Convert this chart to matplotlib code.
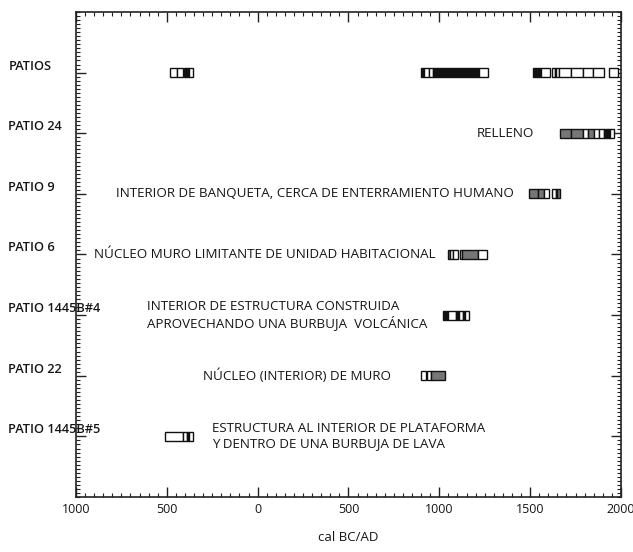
import numpy as np
import matplotlib
matplotlib.use("Agg")
import matplotlib.pyplot as plt
from matplotlib.ticker import MultipleLocator, FuncFormatter

plt.rcParams['font.family'] = ['Open Sans', 'DejaVu Sans']

# muestras (de arriba hacia abajo)
muestras = ["PATIOS", "PATIO 24", "PATIO 9", "PATIO 6",
            "PATIO 1445B#4", "PATIO 22", "PATIO 1445B#5"]
posiciones = [7, 6, 5, 4, 3, 2, 1]

# segmentos de cada rango calibrado: (inicio, fin, tono) ; BC negativo
seg_patios = [(-485, -443, 'w'), (-443, -410, 'w'), (-405, -380, 'k'), (-380, -358, 'w'),
              (898, 914, 'k'), (914, 945, 'w'), (945, 965, 'w'), (965, 1217, 'k'), (1217, 1266, 'w'),
              (1514, 1558, 'k'), (1558, 1608, 'w'), (1618, 1635, 'w'), (1635, 1645, 'k'),
              (1645, 1657, 'w'), (1657, 1724, 'w'), (1724, 1790, 'w'), (1793, 1845, 'w'),
              (1845, 1905, 'w'), (1933, 1982, 'w')]
seg_patio24 = [(1663, 1724, 'g'), (1724, 1790, 'g'), (1790, 1820, 'w'), (1820, 1850, 'g'),
               (1850, 1880, 'w'), (1880, 1905, 'w'), (1905, 1940, 'k'), (1940, 1960, 'w')]
seg_patio9 = [(1494, 1542, 'g'), (1542, 1575, 'g'), (1575, 1602, 'w'),
              (1622, 1640, 'w'), (1640, 1650, 'k'), (1650, 1663, 'g')]
seg_patio6 = [(1046, 1060, 'g'), (1060, 1074, 'w'), (1074, 1101, 'w'),
              (1112, 1123, 'w'), (1123, 1211, 'g'), (1211, 1261, 'w')]
seg_1445b4 = [(1022, 1046, 'k'), (1046, 1090, 'w'), (1090, 1107, 'k'),
              (1107, 1129, 'w'), (1129, 1140, 'k'), (1140, 1162, 'w')]
seg_patio22 = [(901, 925, 'w'), (931, 953, 'w'), (953, 1030, 'g')]
seg_1445b5 = [(-512, -413, 'w'), (-413, -391, 'w'), (-391, -380, 'k'), (-380, -358, 'w')]

segmentos = [seg_patios, seg_patio24, seg_patio9, seg_patio6,
             seg_1445b4, seg_patio22, seg_1445b5]

# contexto de cada muestra
contextos = ["",
             "RELLENO",
             "INTERIOR DE BANQUETA, CERCA DE ENTERRAMIENTO HUMANO",
             "NÚCLEO MURO LIMITANTE DE UNIDAD HABITACIONAL",
             "INTERIOR DE ESTRUCTURA CONSTRUIDA\nAPROVECHANDO UNA BURBUJA  VOLCÁNICA",
             "NÚCLEO (INTERIOR) DE MURO",
             "ESTRUCTURA AL INTERIOR DE PLATAFORMA\nY DENTRO DE UNA BURBUJA DE LAVA"]
x_contexto = [0, 1208, -782, -898, -611, -303, -253]

tonos = {'w': 'white', 'g': '#767676', 'k': '#111111'}
texto = '#151515'

fig = plt.figure(figsize=(6.33, 5.52), dpi=100)
ax = fig.add_axes([0.120, 0.0996, 0.861, 0.8787])

alto = 0.15
for y, segs in zip(posiciones, segmentos):
    for ini, fin, t in segs:
        ax.barh(y, fin - ini, left=ini, height=alto, color=tonos[t],
                edgecolor='#111111', linewidth=1.0, zorder=3)

for y, txt, xc in zip(posiciones, contextos, x_contexto):
    if txt:
        ax.text(xc, y, txt, ha='left', va='center', fontsize=9.6,
                color=texto, linespacing=1.2)

ax.set_xlim(-1000, 2000)
ax.set_ylim(0, 8)
ax.xaxis.set_major_locator(MultipleLocator(500))
ax.xaxis.set_minor_locator(MultipleLocator(50))
ax.xaxis.set_major_formatter(FuncFormatter(lambda v, p: f"{abs(int(v))}"))
ax.set_yticks(posiciones)
ax.set_yticklabels([])
ax.yaxis.set_minor_locator(MultipleLocator(1 / 15))

ax.tick_params(which='both', direction='in', top=True, right=True, color='#222222')
ax.tick_params(which='major', length=7, width=1.0, labelsize=9, labelcolor=texto, pad=4)
ax.tick_params(which='minor', length=3, width=0.8)
for s in ax.spines.values():
    s.set_linewidth(1.2)
    s.set_color('#222222')

# etiquetas de muestras a la izquierda
for y, m in zip(posiciones, muestras):
    ax.text(-0.124, y, m, transform=ax.get_yaxis_transform(), ha='left', va='bottom',
            fontsize=9.2, fontweight='semibold', color=texto)

ax.set_xlabel("cal BC/AD", fontsize=9.5, color=texto, labelpad=11)

fig.savefig("out.png", dpi=100)
